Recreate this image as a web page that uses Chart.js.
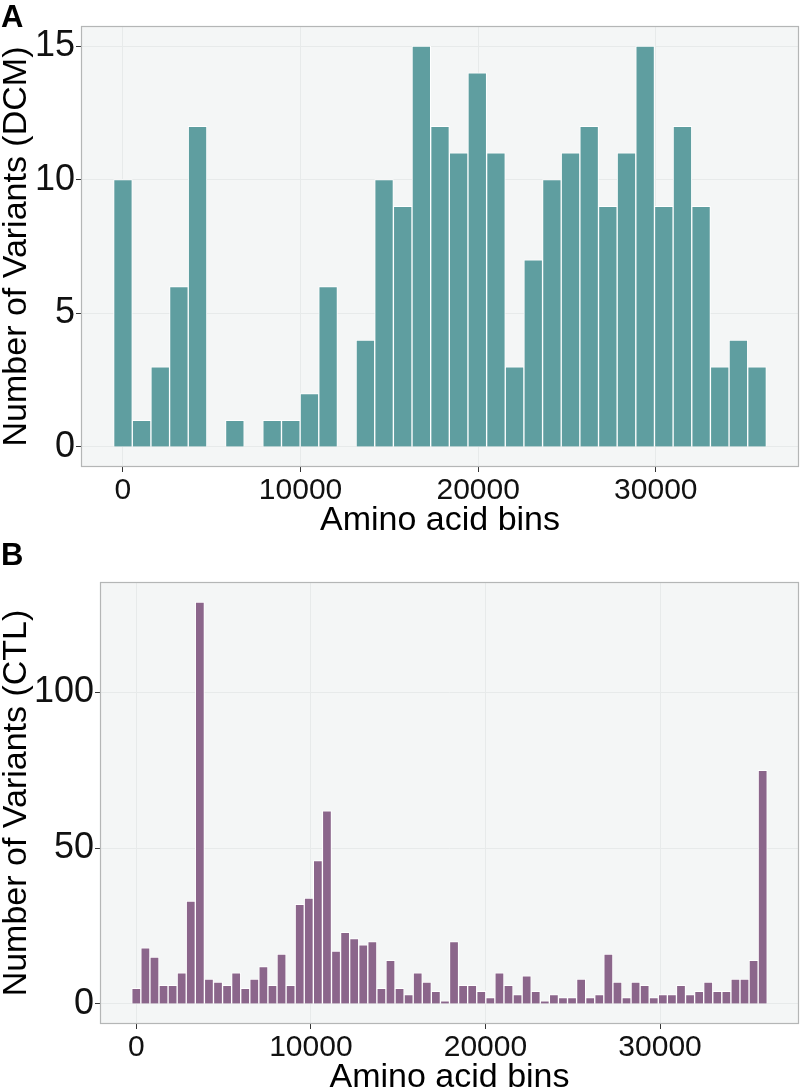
<!DOCTYPE html>
<html>
<head>
<meta charset="utf-8">
<script src="https://cdn.jsdelivr.net/npm/chart.js@4.4.1/dist/chart.umd.min.js"></script>
<style>
  body { margin: 0; background: #fff; width: 800px; height: 1089px; overflow: hidden; position: relative; font-family: "Liberation Sans", Arial, sans-serif; }
  .panel { position: absolute; left: 0; width: 800px; }
  .tag { position: absolute; left: 1px; font-weight: bold; font-size: 31px; line-height: 1; color: #000; z-index: 2; }
</style>
</head>
<body>
<div class="panel" style="top:0;height:540px"><canvas id="dcmChart" width="800" height="540"></canvas></div>
<div class="panel" style="top:540px;height:560px"><canvas id="ctlChart" width="800" height="560"></canvas></div>
<div class="tag" style="top:1px">A</div>
<div class="tag" style="top:539px">B</div>

<script>
// --- data ---
const xTicks = [0, 10000, 20000, 30000];

// panel A: DCM, 35 bins ~1050 aa wide, first bin centred on 0
const dcmBinWidth = 1050;
const dcmCounts = [10, 1, 3, 6, 12, 0, 1, 0, 1, 1, 2, 6, 0, 4, 10, 9, 15, 12, 11, 14,
  11, 3, 7, 10, 11, 12, 9, 11, 15, 9, 12, 9, 3, 4, 3];
const dcmYTicks = [0, 5, 10, 15];

// panel B: CTL, 70 bins ~520 aa wide
const ctlBinWidth = 520;
const ctlCounts = [5, 18, 15, 6, 6, 10, 33, 129, 8, 7, 6, 10, 5, 8, 12, 6, 16, 6, 32, 34,
  46, 62, 17, 23, 21, 19, 20, 5, 14, 5, 3, 10, 7, 4, 1, 20, 6, 6, 4, 2,
  10, 6, 3, 9, 4, 1, 3, 2, 2, 8, 2, 3, 16, 7, 2, 7, 6, 2, 3, 3,
  6, 3, 4, 7, 4, 4, 8, 8, 14, 75];
const ctlYTicks = [0, 50, 100];

(function () {
  'use strict';

  const FONT = '"Liberation Sans", Arial, sans-serif';

  // ggplot-like panel: light fill behind, grey frame on top
  const panelPlugin = {
    id: 'panel',
    beforeDraw(chart) {
      const { ctx, chartArea: a } = chart;
      ctx.save();
      ctx.fillStyle = '#f4f6f6';
      ctx.fillRect(a.left, a.top, a.right - a.left, a.bottom - a.top);
      ctx.restore();
    },
    afterDraw(chart) {
      const { ctx, chartArea: a } = chart;
      ctx.save();
      ctx.strokeStyle = '#b4b6b6';
      ctx.lineWidth = 1.2;
      ctx.strokeRect(a.left + 0.5, a.top + 0.5, a.right - a.left - 1, a.bottom - a.top - 1);
      ctx.restore();
    }
  };

  // data range expanded by 5% each side, like ggplot
  function expanded(lo, hi) {
    const pad = (hi - lo) * 0.05;
    return [lo - pad, hi + pad];
  }

  function makeHist(id, opts) {
    const points = opts.counts.map((c, i) => ({ x: i * opts.binWidth, y: c }));
    const xr = expanded(-opts.binWidth / 2, (opts.counts.length - 0.5) * opts.binWidth);
    const yr = expanded(0, Math.max(...opts.counts));

    return new Chart(document.getElementById(id), {
      type: 'bar',
      data: {
        datasets: [{
          data: points,
          backgroundColor: opts.color,
          borderColor: '#ffffff',
          borderWidth: 1,
          barPercentage: 1,
          categoryPercentage: 1
        }]
      },
      options: {
        responsive: false,
        animation: false,
        events: [],
        layout: { padding: { top: opts.top, right: 1, left: 0, bottom: 0 } },
        plugins: { legend: { display: false }, tooltip: { enabled: false } },
        scales: {
          x: {
            type: 'linear',
            min: xr[0],
            max: xr[1],
            offset: false,
            afterBuildTicks: s => { s.ticks = xTicks.map(v => ({ value: v })); },
            afterFit: s => { s.height = opts.xAxisHeight; },
            ticks: {
              font: { family: FONT, size: 30 },
              color: '#111',
              padding: 1,
              maxRotation: 0,
              callback: v => String(v)
            },
            grid: { offset: false, color: '#e7eaea', lineWidth: 1, tickColor: '#333', tickLength: 5 },
            border: { display: false },
            title: {
              display: true,
              text: 'Amino acid bins',
              font: { family: FONT, size: 34, lineHeight: 1 },
              color: '#000',
              padding: { top: 0, bottom: opts.titlePad }
            }
          },
          y: {
            type: 'linear',
            min: yr[0],
            max: yr[1],
            afterBuildTicks: s => { s.ticks = opts.yTicks.map(v => ({ value: v })); },
            afterFit: s => { s.width = opts.yAxisWidth; },
            ticks: {
              font: { family: FONT, size: 36 },
              color: '#111',
              padding: 1
            },
            grid: { color: '#e7eaea', lineWidth: 1, tickColor: '#333', tickLength: 5 },
            border: { display: false },
            title: {
              display: true,
              text: opts.yTitle,
              font: { family: FONT, size: 34, lineHeight: 1 },
              color: '#000',
              padding: { top: 0, bottom: 0 }
            }
          }
        }
      },
      plugins: [panelPlugin]
    });
  }

  makeHist('dcmChart', {
    counts: dcmCounts,
    binWidth: dcmBinWidth,
    yTicks: dcmYTicks,
    color: '#5f9ea0',
    yTitle: 'Number of Variants (DCM)',
    top: 26,
    xAxisHeight: 73,
    yAxisWidth: 81,
    titlePad: 2
  });

  makeHist('ctlChart', {
    counts: ctlCounts,
    binWidth: ctlBinWidth,
    yTicks: ctlYTicks,
    color: '#8b668b',
    yTitle: 'Number of Variants (CTL)',
    top: 42,
    xAxisHeight: 76,
    yAxisWidth: 100,
    titlePad: 5
  });
})();
</script>
</body>
</html>
